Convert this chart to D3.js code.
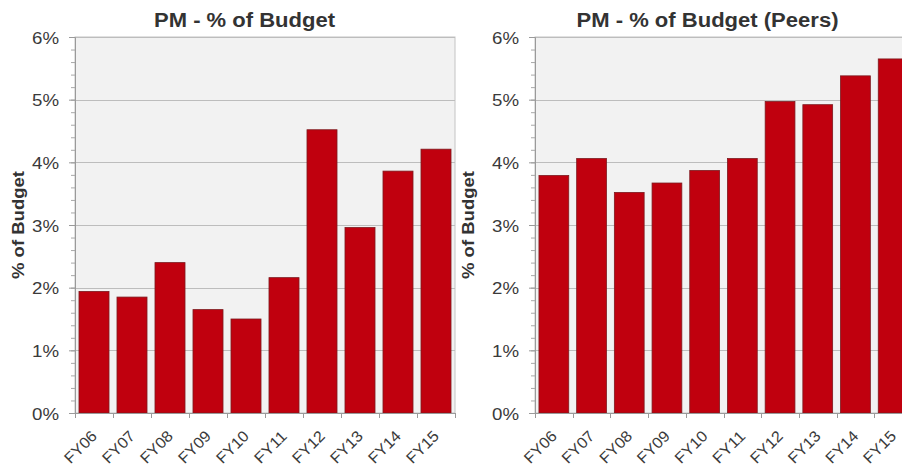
<!DOCTYPE html>
<html><head><meta charset="utf-8">
<script src="https://cdn.jsdelivr.net/npm/d3@7"></script>
<style>
body{margin:0;background:#fff}
svg{display:block}
text{font-family:"Liberation Sans",Arial,Helvetica,sans-serif}
</style></head>
<body><svg id="chart" width="902" height="470"></svg>
<script>
const categories=["FY06","FY07","FY08","FY09","FY10","FY11","FY12","FY13","FY14","FY15"];
const pmValues=[1.94,1.85,2.40,1.65,1.50,2.16,4.52,2.96,3.86,4.21];
const peerValues=[3.79,4.06,3.52,3.67,3.87,4.06,4.97,4.92,5.38,5.65];
const yTicks=[0,1,2,3,4,5,6];
const minorTicks=d3.range(0,31).map(i=>i/5);
const titles=["PM - % of Budget","PM - % of Budget (Peers)"];
const yLabel="% of Budget";

const svg=d3.select("#chart");
const TOP=37, BOTTOM=413;
const panels=[
  {values:pmValues,title:titles[0],x0:75,x1:455,titleX:244.5,titleW:181,ylabX:24},
  {values:peerValues,title:titles[1],x0:535,x1:912,titleX:707.5,titleW:262,ylabX:474}
];

panels.forEach(p=>{
  const g=svg.append("g");
  const y=d3.scaleLinear().domain([0,6]).range([BOTTOM,TOP]);
  const x=d3.scaleBand().domain(categories).range([p.x0,p.x1]).paddingInner(0.21).paddingOuter(0.105);

  g.append("rect").attr("x",p.x0).attr("y",TOP).attr("width",p.x1-p.x0).attr("height",BOTTOM-TOP)
    .attr("fill","#f2f2f2").attr("stroke","#c4c4c4").attr("stroke-width",1);

  g.append("g").selectAll("line").data(yTicks.slice(1)).join("line")
    .attr("x1",p.x0).attr("x2",p.x1).attr("y1",d=>Math.round(y(d))+0.5).attr("y2",d=>Math.round(y(d))+0.5)
    .attr("stroke","#bdbdbd").attr("stroke-width",1);

  g.append("g").selectAll("rect").data(p.values).join("rect")
    .attr("x",(d,i)=>x(categories[i])).attr("width",x.bandwidth())
    .attr("y",d=>y(d)).attr("height",d=>y(0)-y(d))
    .attr("fill","#c0000e").attr("stroke","#7d1a1f").attr("stroke-width",0.8);

  const minorAxis=d3.axisLeft(y).tickValues(minorTicks).tickSize(4).tickFormat("");
  const mg=g.append("g").attr("transform",`translate(${p.x0},0)`).call(minorAxis);
  mg.select(".domain").remove();
  mg.selectAll("line").attr("stroke","#a8a8a8");

  const yAxis=d3.axisLeft(y).tickValues(yTicks).tickSize(6).tickPadding(10).tickFormat(d=>d+"%");
  const yg=g.append("g").attr("transform",`translate(${p.x0},0)`).call(yAxis);
  yg.select(".domain").attr("stroke","#9a9a9a");
  yg.selectAll("line").attr("stroke","#9a9a9a");
  yg.selectAll("text").attr("font-size",17).attr("fill","#3a3a3a").attr("dy","0.36em")
    .attr("textLength",27).attr("lengthAdjust","spacingAndGlyphs");

  g.append("line").attr("x1",p.x0).attr("x2",p.x1).attr("y1",BOTTOM+0.5).attr("y2",BOTTOM+0.5).attr("stroke","#9a9a9a");
  const step=x.step();
  const bounds=d3.range(0,categories.length+1).map(i=>x(categories[0])-(step-x.bandwidth())/2+i*step);
  g.append("g").selectAll("line").data(bounds).join("line")
    .attr("x1",d=>Math.round(d)+0.5).attr("x2",d=>Math.round(d)+0.5).attr("y1",BOTTOM).attr("y2",BOTTOM+5)
    .attr("stroke","#9a9a9a");

  g.append("g").selectAll("text").data(categories).join("text")
    .attr("transform",d=>`translate(${x(d)+x.bandwidth()/2+4},${BOTTOM+24}) rotate(-45)`)
    .attr("text-anchor","end").attr("font-size",15.5).attr("fill","#3a3a3a")
    .attr("textLength",39).attr("lengthAdjust","spacingAndGlyphs")
    .text(d=>d);

  g.append("text").attr("x",p.titleX).attr("y",27).attr("text-anchor","middle")
    .attr("font-size",20).attr("font-weight","bold").attr("fill","#333")
    .attr("textLength",p.titleW).attr("lengthAdjust","spacingAndGlyphs").text(p.title);

  g.append("text").attr("transform",`translate(${p.ylabX},${(TOP+BOTTOM)/2}) rotate(-90)`)
    .attr("text-anchor","middle").attr("font-size",16.5).attr("font-weight","bold").attr("fill","#333")
    .attr("textLength",108).attr("lengthAdjust","spacingAndGlyphs").text(yLabel);
});
</script></body></html>
